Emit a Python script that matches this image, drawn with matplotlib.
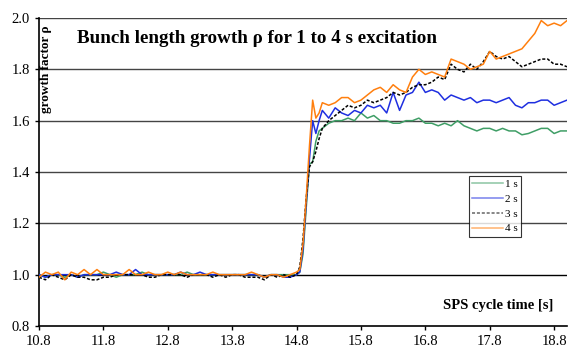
import numpy as np
import matplotlib
matplotlib.use("Agg")
import matplotlib.pyplot as plt

plt.rcParams['font.family'] = ['Liberation Serif', 'DejaVu Serif']

# ===== DATA =====
# time grid: flat part every 0.1 s, rise every 0.05 s, then every 0.1 s
time = np.round(np.concatenate([
    np.arange(10.8, 14.85, 0.1),
    [14.85, 14.9, 14.95, 15.0, 15.05, 15.1, 15.15],
    np.arange(15.2, 19.05, 0.1),
]), 2)

rho_1s = [1.00, 0.99, 1.00, 1.00, 0.99, 1.00, 0.99, 1.00, 1.00, 1.00,
          1.01, 1.00, 0.99, 1.00, 1.00, 1.00, 1.01, 1.00, 1.00, 1.00,
          1.00, 1.00, 1.00, 1.01, 1.00, 1.00, 1.00, 1.00, 1.00, 1.00,
          1.00, 1.00, 1.00, 1.00, 1.00, 0.99, 1.00, 1.00, 1.00, 1.00,
          1.00,
          1.01, 1.08, 1.26, 1.43, 1.44, 1.52, 1.56,
          1.57, 1.59, 1.60, 1.60, 1.61, 1.60, 1.63, 1.61, 1.62, 1.60,
          1.60, 1.59, 1.59, 1.60, 1.60, 1.61, 1.59, 1.59, 1.58, 1.59,
          1.58, 1.60, 1.58, 1.57, 1.56, 1.57, 1.57, 1.56, 1.57, 1.56,
          1.56, 1.545, 1.55, 1.56, 1.57, 1.57, 1.55, 1.56, 1.56]

rho_2s = [1.00, 0.99, 1.00, 1.00, 1.00, 1.00, 0.99, 1.00, 1.00, 1.00,
          1.00, 1.00, 1.01, 1.00, 1.00, 1.02, 1.00, 1.00, 1.00, 1.00,
          1.00, 1.00, 1.01, 1.00, 1.00, 1.01, 1.00, 1.00, 1.00, 1.00,
          1.00, 1.00, 1.00, 1.00, 1.00, 0.99, 1.00, 1.00, 0.99, 0.99,
          1.00,
          1.01, 1.10, 1.28, 1.45, 1.60, 1.55, 1.60,
          1.64, 1.61, 1.65, 1.63, 1.62, 1.64, 1.63, 1.66, 1.65, 1.66,
          1.63, 1.71, 1.64, 1.70, 1.71, 1.75, 1.71, 1.72, 1.71, 1.68,
          1.70, 1.69, 1.68, 1.69, 1.67, 1.68, 1.68, 1.67, 1.68, 1.69,
          1.66, 1.65, 1.67, 1.67, 1.68, 1.68, 1.66, 1.67, 1.68]

rho_3s = [0.99, 0.98, 1.00, 0.99, 0.98, 1.00, 0.99, 0.99, 0.98, 0.98,
          0.99, 0.99, 1.00, 1.00, 1.00, 1.00, 1.00, 0.99, 0.99, 1.00,
          1.00, 1.00, 1.00, 0.99, 1.00, 1.00, 1.00, 0.99, 1.00, 0.99,
          1.00, 1.00, 0.99, 0.99, 0.99, 0.98, 1.00, 0.99, 1.00, 0.99,
          1.00,
          1.03, 1.14, 1.30, 1.42, 1.44, 1.48, 1.53,
          1.57, 1.60, 1.62, 1.64, 1.66, 1.65, 1.66, 1.68, 1.67, 1.68,
          1.69, 1.71, 1.70, 1.71, 1.73, 1.74, 1.74, 1.75, 1.77, 1.76,
          1.82, 1.80, 1.79, 1.82, 1.80, 1.83, 1.87, 1.85, 1.84, 1.85,
          1.83, 1.81, 1.82, 1.83, 1.84, 1.84, 1.82, 1.82, 1.81]

rho_4s = [0.99, 1.01, 1.00, 1.01, 0.98, 1.01, 1.00, 1.02, 1.00, 1.02,
          1.00, 1.00, 1.00, 1.00, 1.02, 1.00, 1.00, 1.01, 1.00, 1.00,
          1.01, 1.00, 1.01, 1.00, 1.00, 1.00, 1.00, 1.01, 1.00, 1.00,
          1.00, 1.00, 1.00, 1.01, 1.00, 0.99, 1.00, 1.00, 0.99, 1.00,
          1.01,
          1.02, 1.12, 1.30, 1.50, 1.68, 1.61, 1.63,
          1.67, 1.66, 1.67, 1.69, 1.69, 1.67, 1.68, 1.70, 1.72, 1.73,
          1.71, 1.74, 1.72, 1.71, 1.77, 1.80, 1.78, 1.79, 1.78, 1.77,
          1.84, 1.83, 1.82, 1.80, 1.81, 1.82, 1.87, 1.84, 1.85, 1.86,
          1.87, 1.88, 1.91, 1.94, 1.99, 1.97, 1.98, 1.97, 1.99]

labels = ["1 s", "2 s", "3 s", "4 s"]
colors = ["#3f9e66", "#1f2fe0", "black", "#ff7f0e"]
styles = ["-", "-", (0, (2, 1.2)), "-"]

x_ticks = [10.8, 11.8, 12.8, 13.8, 14.8, 15.8, 16.8, 17.8, 18.8]
y_ticks = [0.8, 1.0, 1.2, 1.4, 1.6, 1.8, 2.0]

# ===== PLOT =====
fig = plt.figure(figsize=(5.68, 3.48), dpi=100)
ax = fig.add_axes([39 / 568, 1 - 326 / 348, 528 / 568, 308 / 348])

for yv in y_ticks[1:]:
    ax.axhline(yv, color="#444444" if yv > 1.0 else "black", lw=1.0, zorder=1)

for y, lab, c, ls in zip([rho_1s, rho_2s, rho_3s, rho_4s], labels, colors, styles):
    ax.plot(time, y, color=c, ls=ls, lw=1.1, label=lab, zorder=3)

ax.set_xlim(10.8, 19.0)
ax.set_ylim(0.8, 2.0)
ax.set_xticks(x_ticks)
ax.set_yticks(y_ticks)
ax.set_xticklabels([f"{v:.1f}" for v in x_ticks])
ax.set_yticklabels([f"{v:.1f}" for v in y_ticks])
ax.tick_params(labelsize=10.5, length=3, width=1, color="black")
for s in ["top", "right"]:
    ax.spines[s].set_visible(False)
ax.spines["left"].set_linewidth(1.2)
ax.spines["bottom"].set_linewidth(1.2)

ax.text(0.072, 0.935, "Bunch length growth ρ for 1 to 4 s excitation",
        transform=ax.transAxes, fontsize=13.7, fontweight="bold", va="center")
ax.text(0.013, 0.975, "growth factor ρ", transform=ax.transAxes,
        rotation=90, fontsize=9.5, fontweight="bold", ha="center", va="top")
ax.text(0.975, 0.065, "SPS cycle time [s]", transform=ax.transAxes,
        fontsize=10.5, fontweight="bold", ha="right", va="center")

leg = ax.legend(loc="upper left", bbox_to_anchor=(469 / 568, 1 - 176 / 348),
                bbox_transform=fig.transFigure, fontsize=8, frameon=True,
                fancybox=False, edgecolor="black", handlelength=2.8,
                handletextpad=0.1, borderpad=0.3, labelspacing=0.45,
                borderaxespad=0)
leg.get_frame().set_linewidth(0.8)
for h in leg.get_lines():
    h.set_alpha(0.6)

fig.savefig("out.png", dpi=100)
